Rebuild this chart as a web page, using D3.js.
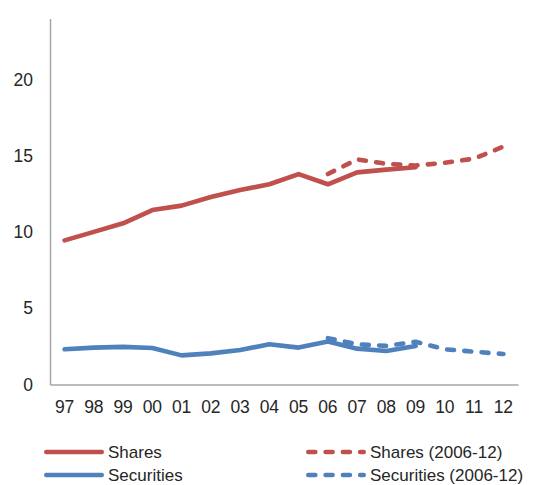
<!DOCTYPE html>
<html><head><meta charset="utf-8">
<script src="https://cdn.jsdelivr.net/npm/d3@7"></script>
<style>body{margin:0;background:#fff}text{font-family:"Liberation Sans",Arial,sans-serif}</style>
</head><body><svg id="c" width="534" height="485"></svg>
<script>
const years = ["97","98","99","00","01","02","03","04","05","06","07","08","09","10","11","12"];
const shares = [9.45,10.01,10.57,11.44,11.73,12.29,12.75,13.13,13.8,13.13,13.91,14.09,14.25,null,null,null];
const sharesProj = [null,null,null,null,null,null,null,null,null,13.8,14.76,14.47,14.36,14.54,14.81,15.6];
const securities = [2.31,2.42,2.47,2.39,1.91,2.04,2.26,2.64,2.42,2.82,2.35,2.2,2.53,null,null,null];
const securitiesProj = [null,null,null,null,null,null,null,null,null,3.04,2.64,2.53,2.8,2.31,2.15,2.0];
const yTicks = [0,5,10,15,20];

const red = "#C0504D", blue = "#4F81BD";
const svg = d3.select("#c");
const x = d3.scaleBand().domain(years).range([50,518]);
const y = d3.scaleLinear().domain([0,24]).range([384.5,18.5]);

const yAxis = svg.append("g").attr("transform","translate(50,0)")
  .call(d3.axisLeft(y).tickValues(yTicks).tickSize(0).tickPadding(17));
yAxis.select(".domain").attr("stroke","#A6A6A6").attr("stroke-width",1.5);
yAxis.selectAll("text").attr("font-size",17.5).attr("fill","#262626");

const xAxis = svg.append("g").attr("transform","translate(0,384.5)")
  .call(d3.axisBottom(x).tickSize(0).tickPadding(16));
xAxis.select(".domain").attr("stroke","#A6A6A6").attr("stroke-width",1.5);
xAxis.selectAll("text").attr("font-size",17.5).attr("fill","#262626");

const line = d3.line().defined(d=>d!=null)
  .x((d,i)=>x(years[i])+x.bandwidth()/2).y(d=>y(d));

function draw(data,color,dashed){
  const p = svg.append("path").attr("d",line(data)).attr("fill","none")
    .attr("stroke",color).attr("stroke-width",4.6)
    .attr("stroke-linejoin","round").attr("stroke-linecap","round");
  if(dashed) p.attr("stroke-dasharray","7,10.3");
}
draw(shares,red,false);
draw(securities,blue,false);
draw(sharesProj,red,true);
draw(securitiesProj,blue,true);

const legend = [
  {label:"Shares",color:red,dashed:false,x:44,y:452},
  {label:"Shares (2006-12)",color:red,dashed:true,x:306,y:452},
  {label:"Securities",color:blue,dashed:false,x:44,y:475},
  {label:"Securities (2006-12)",color:blue,dashed:true,x:306,y:475}
];
legend.forEach(l=>{
  const ln = svg.append("line").attr("x1",l.x+2.3).attr("x2",l.x+57.7).attr("y1",l.y).attr("y2",l.y)
    .attr("stroke",l.color).attr("stroke-width",4.6).attr("stroke-linecap","round");
  if(l.dashed) ln.attr("stroke-dasharray","7,10.3");
  svg.append("text").attr("x",l.x+64).attr("y",l.y).attr("dy","0.35em")
    .attr("font-size",17).attr("fill","#262626").text(l.label);
});
</script></body></html>
